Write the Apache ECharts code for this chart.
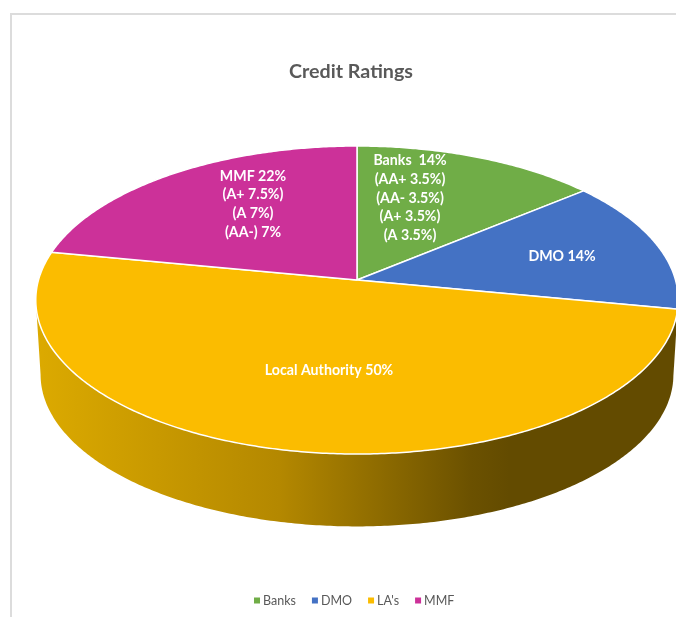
<!DOCTYPE html>
<html>
<head>
<meta charset="utf-8">
<title>Credit Ratings</title>
<script src="https://cdn.jsdelivr.net/npm/echarts@6/dist/echarts.min.js"></script>
<style>
  html, body { margin: 0; padding: 0; background: #fff; }
  #chart { width: 676px; height: 617px; }
</style>
</head>
<body>
<div id="chart"></div>
<script>
// chart values
const categories = ['Banks', 'DMO', "LA's", 'MMF'];
const shares = [14, 14, 50, 22];
const sliceLabels = [
  'Banks  14%\n(AA+ 3.5%)\n(AA- 3.5%)\n(A+ 3.5%)\n(A 3.5%)',
  'DMO 14%',
  'Local Authority 50%',
  'MMF 22%\n(A+ 7.5%)\n(A 7%)\n(AA-) 7%'
];

// looks
const sliceColors = ['#70ad47', '#4472c4', '#fbbc00', '#cc3199'];
const labelSpots = [[410, 198], [562, 256], [329, 370], [253, 204]];
const wallStops = [
  { offset: 0, color: '#dcaa00' },
  { offset: 0.38, color: '#b48800' },
  { offset: 0.68, color: '#6b5100' },
  { offset: 0.74, color: '#634b00' },
  { offset: 1, color: '#634b00' }
];

// the disc is a circle seen in perspective: far side squeezed, near side stretched
const apexX = 357, apexY = 280;
const radiusX = 318.5, radiusY = 151.4, tilt = 0.13;
const wallDepth = 75, wallShrink = 0.985;

function rimPoint(angle, lower) {
  const x = Math.sin(angle), y = Math.cos(angle);
  const w = 1 + tilt * y;
  const s = lower ? wallShrink : 1;
  return [
    apexX + s * radiusX * x / w,
    apexY + (lower ? wallDepth : 0) - s * radiusY * y / w
  ];
}

function arcPoints(from, to, lower) {
  const pts = [];
  const n = Math.max(2, Math.ceil((to - from) / 0.01));
  for (let i = 0; i <= n; i++) {
    pts.push(rimPoint(from + (to - from) * i / n, lower));
  }
  return pts;
}

// the near wall runs between the two widest points of the rim
const frontFrom = Math.acos(-tilt);
const frontTo = 2 * Math.PI - frontFrom;
const total = shares.reduce((a, b) => a + b, 0);

function makeSlice(index) {
  return function (params, api) {
    let before = 0;
    for (let i = 0; i < index; i++) before += shares[i];
    const from = before / total * 2 * Math.PI;
    const to = (before + api.value(0)) / total * 2 * Math.PI;
    const children = [];

    const wallFrom = Math.max(from, frontFrom);
    const wallTo = Math.min(to, frontTo);
    if (wallFrom < wallTo) {
      children.push({
        type: 'polygon',
        shape: {
          points: arcPoints(wallFrom, wallTo, false).concat(arcPoints(wallFrom, wallTo, true).reverse())
        },
        style: {
          fill: new echarts.graphic.LinearGradient(36, 0, 676, 0, wallStops, true)
        }
      });
    }

    children.push({
      type: 'polygon',
      shape: { points: [[apexX, apexY]].concat(arcPoints(from, to, false)) },
      style: { fill: sliceColors[index], stroke: '#fff', lineWidth: 1.5, lineJoin: 'round' }
    });

    children.push({
      type: 'text',
      x: labelSpots[index][0],
      y: labelSpots[index][1],
      style: {
        text: sliceLabels[index],
        fill: '#fff',
        font: 'bold 14.2px Lato',
        lineHeight: 18.7,
        align: 'center',
        verticalAlign: 'middle'
      }
    });

    return { type: 'group', children: children };
  };
}

const myChart = echarts.init(document.getElementById('chart'), null, { renderer: 'canvas' });
const option = {
  animation: false,
  backgroundColor: '#fff',
  title: {
    text: 'Credit Ratings',
    left: 346,
    top: 57,
    textAlign: 'center',
    textStyle: { fontFamily: 'Lato', fontSize: 19.7, fontWeight: 'bold', color: '#595959' }
  },
  legend: {
    data: categories,
    left: 254,
    top: 594,
    padding: 0,
    icon: 'rect',
    itemWidth: 6,
    itemHeight: 6,
    itemGap: 16,
    selectedMode: false,
    textStyle: { fontFamily: 'Lato', fontSize: 12.5, color: '#595959', padding: [0, 0, 0, -2] }
  },
  graphic: [
    { type: 'rect', shape: { x: 10, y: 13, width: 2, height: 604 }, style: { fill: '#dcdcdc' } },
    { type: 'rect', shape: { x: 10, y: 13, width: 666, height: 2 }, style: { fill: '#dcdcdc' } }
  ],
  series: categories.map((name, i) => ({
    type: 'custom',
    name: name,
    coordinateSystem: 'none',
    itemStyle: { color: sliceColors[i] },
    renderItem: makeSlice(i),
    data: [shares[i]]
  }))
};
myChart.setOption(option);
</script>
</body>
</html>
